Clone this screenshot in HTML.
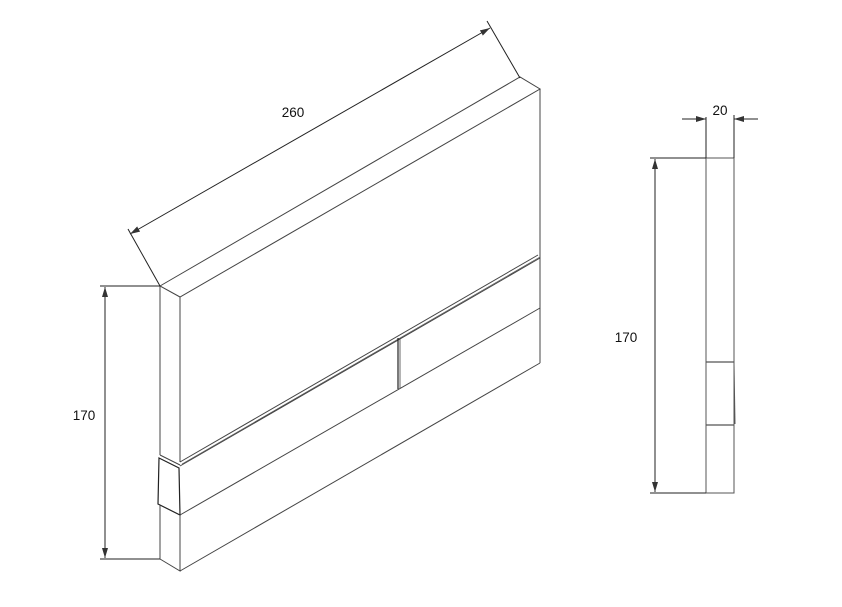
<!DOCTYPE html>
<html><head><style>html,body{margin:0;padding:0;background:#fff}svg{display:block}</style></head>
<body>
<svg width="842" height="607" viewBox="0 0 842 607" xmlns="http://www.w3.org/2000/svg">
<defs>
<marker id="a" viewBox="0 0 10 6" refX="10" refY="3" markerWidth="10" markerHeight="6" markerUnits="userSpaceOnUse" orient="auto"><path d="M0,0 L10,3 L0,6 z" fill="#333"/></marker>
<marker id="b" viewBox="0 0 10 6" refX="0" refY="3" markerWidth="10" markerHeight="6" markerUnits="userSpaceOnUse" orient="auto"><path d="M10,0 L0,3 L10,6 z" fill="#333"/></marker>
</defs>
<g fill="none" stroke="#444" stroke-width="1">
<path d="M160,286 L520,77 L540,89 L180,297 Z"/>
<line x1="180" y1="297" x2="180" y2="462"/>
<line x1="540" y1="89" x2="540" y2="363"/>
<line x1="180" y1="571" x2="540" y2="363"/>
<line x1="160" y1="286" x2="160" y2="455"/>
<path d="M160,455 L180,465"/>
<path d="M180,462 L538,255"/>
<path d="M180,466 L540,258"/>
<path d="M182,464 L540,257" stroke-width="0.6"/>
<path d="M159,458 L179,468 L180,515 L158,504 Z" stroke="#222" stroke-width="1.2"/>
<line x1="180" y1="515" x2="540" y2="308"/>
<line x1="160" y1="505" x2="160" y2="559"/>
<path d="M160,559 L180,571 L180,515"/>
<line x1="398" y1="338" x2="398" y2="389" stroke="#222" stroke-width="1.2"/>
<line x1="400" y1="338" x2="400" y2="388" stroke-width="0.8"/>
</g>
<g fill="none" stroke="#222" stroke-width="1">
<line x1="160" y1="286" x2="128" y2="229"/>
<line x1="520" y1="78" x2="487" y2="21"/>
<line x1="130" y1="234" x2="490" y2="28" marker-start="url(#b)" marker-end="url(#a)"/>
<line x1="100" y1="286" x2="160" y2="286"/>
<line x1="100" y1="559" x2="160" y2="559"/>
<line x1="105" y1="287" x2="105" y2="558" marker-start="url(#b)" marker-end="url(#a)"/>
<rect x="706" y="158" width="28" height="335" stroke="#555"/>
<line x1="706" y1="362" x2="734" y2="362" stroke="#555" stroke-width="1.2"/>
<line x1="706" y1="425" x2="734" y2="425" stroke="#555" stroke-width="1.2"/>
<line x1="734" y1="364" x2="735" y2="424" stroke="#555"/>
<line x1="706" y1="117" x2="706" y2="158"/>
<line x1="734" y1="115" x2="734" y2="158"/>
<line x1="682" y1="119" x2="706" y2="119" marker-end="url(#a)"/>
<line x1="758" y1="119" x2="734" y2="119" marker-end="url(#a)"/>
<line x1="650" y1="158" x2="706" y2="158"/>
<line x1="650" y1="493" x2="706" y2="493"/>
<line x1="655" y1="159" x2="655" y2="492" marker-start="url(#b)" marker-end="url(#a)"/>
</g>
<g font-family="Liberation Sans, sans-serif" font-size="13.5" fill="#111">
<text x="293" y="117" text-anchor="middle">260</text>
<text x="84" y="420" text-anchor="middle">170</text>
<text x="720" y="115" text-anchor="middle">20</text>
<text x="626" y="342" text-anchor="middle">170</text>
</g>
</svg>
</body></html>
